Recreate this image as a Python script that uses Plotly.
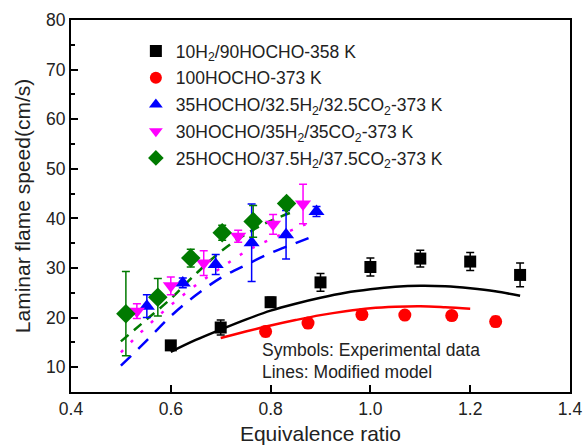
import plotly.graph_objects as go

# ---- experimental data ----
blk_x = [0.60, 0.70, 0.80, 0.90, 1.00, 1.10, 1.20, 1.30]
blk_y = [14.4, 18.0, 23.1, 27.1, 30.2, 31.9, 31.3, 28.6]
blk_e = [0.6, 1.5, 1.0, 1.8, 1.8, 1.7, 1.8, 2.4]

red_x = [0.79, 0.875, 0.983, 1.069, 1.163, 1.251]
red_y = [17.2, 18.9, 20.6, 20.5, 20.4, 19.2]
red_e = [1.0, 1.0, 0.8, 0.8, 0.8, 1.0]

blu_x = [0.552, 0.624, 0.690, 0.762, 0.831, 0.892]
blu_y = [22.3, 27.0, 30.7, 35.1, 36.7, 41.4]
blu_e = [2.3, 1.0, 2.0, 7.8, 4.9, 1.0]

mag_x = [0.532, 0.600, 0.666, 0.735, 0.805, 0.865]
mag_y = [21.3, 26.4, 31.0, 36.4, 38.8, 42.9]
mag_e = [1.5, 1.8, 2.5, 1.2, 2.0, 4.0]

grn_x = [0.510, 0.574, 0.640, 0.703, 0.765, 0.832]
grn_y = [20.8, 24.1, 32.0, 37.1, 39.4, 43.0]
grn_e = [8.5, 3.8, 1.8, 1.5, 3.2, 1.0]

# ---- model lines ----
blk_mx = [0.60, 0.65, 0.70, 0.75, 0.80, 0.85, 0.90, 0.95, 1.00, 1.05, 1.10, 1.15, 1.20, 1.25, 1.30]
blk_my = [13.1, 15.5, 17.6, 19.6, 21.4, 22.8, 24.0, 25.0, 25.7, 26.2, 26.4, 26.3, 25.9, 25.3, 24.4]

red_mx = [0.70, 0.75, 0.80, 0.85, 0.90, 0.95, 1.00, 1.05, 1.10, 1.15, 1.20]
red_my = [15.9, 17.2, 18.4, 19.5, 20.5, 21.3, 21.9, 22.2, 22.3, 22.1, 21.8]

blu_mx = [0.50, 0.55, 0.60, 0.65, 0.70, 0.75, 0.80, 0.85, 0.88]
blu_my = [10.3, 15.2, 20.3, 24.5, 28.0, 30.6, 33.0, 35.0, 36.2]

mag_mx = [0.50, 0.55, 0.60, 0.65, 0.70, 0.75, 0.80, 0.87]
mag_my = [13.0, 18.0, 22.5, 26.5, 30.0, 33.3, 35.8, 38.8]

grn_mx = [0.50, 0.55, 0.60, 0.65, 0.70, 0.75, 0.80, 0.85]
grn_my = [15.2, 19.5, 23.8, 28.8, 33.3, 36.8, 39.5, 41.5]

names = ["10H<sub>2</sub>/90HOCHO-358 K",
         "100HOCHO-373 K",
         "35HOCHO/32.5H<sub>2</sub>/32.5CO<sub>2</sub>-373 K",
         "30HOCHO/35H<sub>2</sub>/35CO<sub>2</sub>-373 K",
         "25HOCHO/37.5H<sub>2</sub>/37.5CO<sub>2</sub>-373 K"]

BLACK, RED, BLUE, MAG, GRN = "#000000", "#ff0000", "#0000ff", "#ff00ff", "#007a00"

fig = go.Figure()

lines = [
    (blk_mx, blk_my, BLACK, "solid"),
    (red_mx, red_my, RED, "solid"),
    (blu_mx, blu_my, BLUE, "14px,10px"),
    (mag_mx, mag_my, MAG, "3px,11px"),
    (grn_mx, grn_my, GRN, "10px,7px"),
]
for x, y, c, d in lines:
    fig.add_trace(go.Scatter(x=x, y=y, mode="lines", line=dict(color=c, width=2.5, dash=d, shape="spline"),
                             showlegend=False, hoverinfo="skip"))

pts = [
    (blk_x, blk_y, blk_e, BLACK, "square", 12),
    (red_x, red_y, red_e, RED, "circle", 13),
    (blu_x, blu_y, blu_e, BLUE, "triangle-up", 14),
    (mag_x, mag_y, mag_e, MAG, "triangle-down", 14),
    (grn_x, grn_y, grn_e, GRN, "diamond", 15),
]
for i, ((x, y, e, c, s, sz), n) in enumerate(zip(pts, names)):
    fig.add_trace(go.Scatter(x=x, y=y, mode="markers", name=n, legendgroup=f"g{i}",
                             marker=dict(color=c, symbol=s, size=sz, line=dict(width=0)),
                             error_y=dict(type="data", array=e, visible=True, color=c, thickness=1.5, width=4)))

fig.add_annotation(xref="paper", yref="paper", x=0.378, y=0.113, xanchor="left", yanchor="middle",
                   showarrow=False, text="Symbols: Experimental data", font=dict(size=17.5, color="#222"))
fig.add_annotation(xref="paper", yref="paper", x=0.378, y=0.055, xanchor="left", yanchor="middle",
                   showarrow=False, text="Lines: Modified model", font=dict(size=17.5, color="#222"))

fig.update_layout(
    width=585, height=448,
    margin=dict(l=71, r=15, t=20, b=56),
    paper_bgcolor="white", plot_bgcolor="white",
    font=dict(family="Arial, Liberation Sans, sans-serif", color="#222", size=17.5),
    showlegend=True,
    legend=dict(x=0.13, y=0.965, xanchor="left", yanchor="top", bgcolor="rgba(0,0,0,0)",
                font=dict(size=17.5), itemsizing="constant", traceorder="grouped", tracegroupgap=1),
    xaxis=dict(range=[0.4, 1.4], tickvals=[0.4, 0.6, 0.8, 1.0, 1.2, 1.4],
               ticktext=["0.4", "0.6", "0.8", "1.0", "1.2", "1.4"],
               ticks="inside", ticklen=7, tickwidth=2, tickcolor="black",
               showline=True, linecolor="black", linewidth=2, mirror=True,
               showgrid=False, zeroline=False, automargin=False,
               title=dict(text="Equivalence ratio", standoff=8)),
    yaxis=dict(range=[5, 80], tickvals=[10, 20, 30, 40, 50, 60, 70, 80],
               ticks="inside", ticklen=7, tickwidth=2, tickcolor="black",
               minor=dict(tickvals=[15, 25, 35, 45, 55, 65, 75], ticks="inside", ticklen=4, tickwidth=2, tickcolor="black"),
               showline=True, linecolor="black", linewidth=2, mirror=True,
               showgrid=False, zeroline=False, automargin=False,
               title=dict(text="Laminar flame speed(cm/s)", standoff=10)),
)

fig.write_html("out.html")
